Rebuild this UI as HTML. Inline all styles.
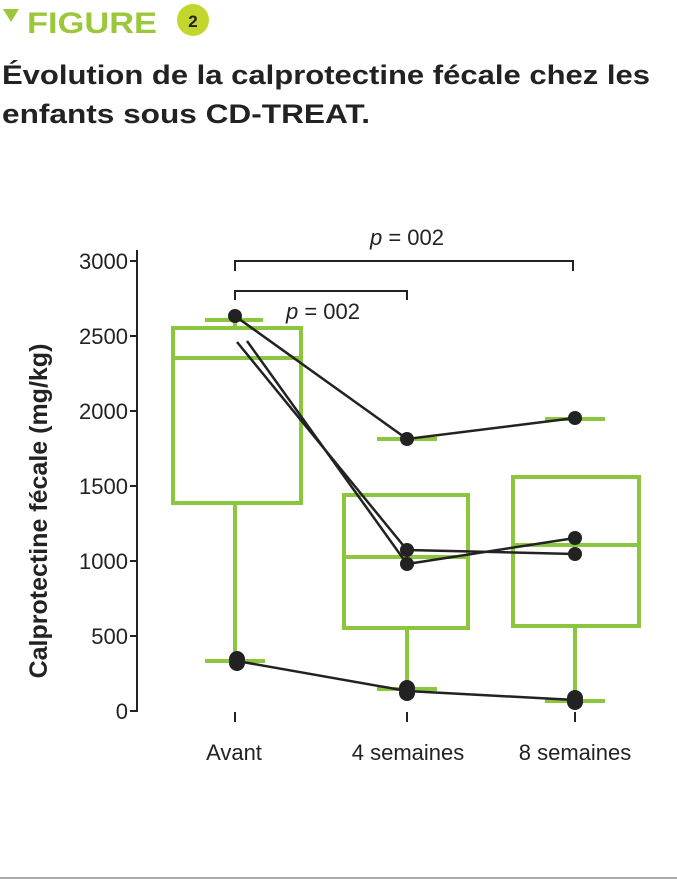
<!DOCTYPE html>
<html><head><meta charset="utf-8"><style>
body{margin:0;background:#fff;width:677px;height:880px;overflow:hidden;font-family:"Liberation Sans",sans-serif}
</style></head><body>
<svg width="677" height="880" xmlns="http://www.w3.org/2000/svg" font-family="Liberation Sans, sans-serif">
<polygon points="3,9 19,9 11,22" fill="#9cc73a"/>
<text x="27" y="33" font-size="30" font-weight="bold" fill="#9cc73a" textLength="130" lengthAdjust="spacingAndGlyphs">FIGURE</text>
<circle cx="193" cy="20" r="16" fill="#c3d62e"/>
<text x="193" y="27" font-size="17" font-weight="bold" fill="#222" text-anchor="middle">2</text>
<text x="2" y="84" font-size="27" font-weight="bold" fill="#222" textLength="648" lengthAdjust="spacingAndGlyphs">Évolution de la calprotectine fécale chez les</text>
<text x="2" y="123" font-size="27" font-weight="bold" fill="#222" textLength="368" lengthAdjust="spacingAndGlyphs">enfants sous CD-TREAT.</text>
<g stroke="#222" stroke-width="2" fill="none">
<line x1="137" y1="250" x2="137" y2="712"/>
<line x1="130" y1="261" x2="137" y2="261"/><line x1="130" y1="336" x2="137" y2="336"/><line x1="130" y1="411" x2="137" y2="411"/><line x1="130" y1="486" x2="137" y2="486"/><line x1="130" y1="561" x2="137" y2="561"/><line x1="130" y1="636" x2="137" y2="636"/><line x1="130" y1="711" x2="137" y2="711"/>
<line x1="235" y1="712" x2="235" y2="722"/><line x1="407" y1="712" x2="407" y2="722"/><line x1="575" y1="712" x2="575" y2="722"/>
<polyline points="235,271 235,261 573,261 573,271"/>
<polyline points="235,300 235,291 407,291 407,300"/>
</g>
<g font-size="22" fill="#222" text-anchor="end">
<text x="128" y="269">3000</text><text x="128" y="344">2500</text><text x="128" y="419">2000</text><text x="128" y="494">1500</text><text x="128" y="569">1000</text><text x="128" y="644">500</text><text x="128" y="719">0</text>
</g>
<g font-size="22" fill="#222" text-anchor="middle">
<text x="234" y="760">Avant</text><text x="408" y="760">4 semaines</text><text x="575" y="760">8 semaines</text>
<text x="407" y="245"><tspan font-style="italic">p</tspan> = 002</text>
<text x="323" y="319"><tspan font-style="italic">p</tspan> = 002</text>
</g>
<text transform="translate(47,511) rotate(-90)" font-size="25" font-weight="bold" fill="#222" text-anchor="middle">Calprotectine fécale (mg/kg)</text>
<g stroke="#8cc63f" stroke-width="4" fill="none">
<rect x="173" y="328" width="128" height="175"/><line x1="173" y1="358" x2="301" y2="358"/>
<line x1="235" y1="320" x2="235" y2="328"/><line x1="205" y1="320" x2="263" y2="320"/>
<line x1="235" y1="503" x2="235" y2="661"/><line x1="205" y1="661" x2="265" y2="661"/>
<rect x="344" y="495" width="124" height="133"/><line x1="344" y1="557" x2="468" y2="557"/>
<line x1="377" y1="439" x2="437" y2="439"/>
<line x1="407" y1="628" x2="407" y2="689"/><line x1="377" y1="689" x2="437" y2="689"/>
<rect x="513" y="477" width="126" height="149"/><line x1="513" y1="545" x2="639" y2="545"/>
<line x1="545" y1="419" x2="605" y2="419"/>
<line x1="575" y1="626" x2="575" y2="701"/><line x1="545" y1="701" x2="605" y2="701"/>
</g>
<g stroke="#222" stroke-width="2.5" fill="none">
<polyline points="235,316 407,439 575,418"/>
<polyline points="237,342 407,550 575,554"/>
<polyline points="247,341 407,564 575,538"/>
<polyline points="237,661 407,691 575,700"/>
</g>
<g fill="#222">
<circle cx="235" cy="316" r="7"/><circle cx="407" cy="439" r="7"/><circle cx="575" cy="418" r="7"/>
<circle cx="407" cy="550" r="7"/><circle cx="575" cy="554" r="7"/>
<circle cx="407" cy="564" r="7"/><circle cx="575" cy="538" r="7"/>
<circle cx="237" cy="659" r="8"/><circle cx="237" cy="663" r="8"/><circle cx="407" cy="688" r="8"/><circle cx="407" cy="693" r="8"/><circle cx="575" cy="698" r="8"/><circle cx="575" cy="702" r="8"/>
</g>
<line x1="0" y1="878" x2="677" y2="878" stroke="#aaa" stroke-width="2"/>
</svg>
</body></html>
